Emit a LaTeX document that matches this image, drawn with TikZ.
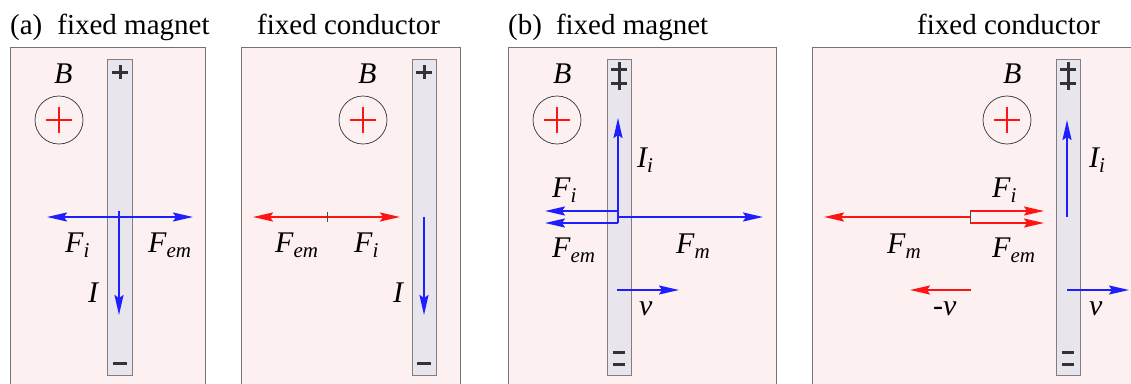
\documentclass[tikz,border=0pt]{standalone}
\usepackage{fontspec}
\setmainfont{Liberation Serif}
\usetikzlibrary{arrows.meta}
\definecolor{cblue}{RGB}{30,30,255}
\definecolor{cred}{RGB}{255,20,20}
\definecolor{pinkbg}{RGB}{253,240,240}
\definecolor{barfill}{RGB}{232,229,236}
\definecolor{barline}{RGB}{130,125,130}
\definecolor{panelline}{RGB}{120,115,115}
\definecolor{signc}{RGB}{50,50,55}
\newcommand{\lsub}[1]{\raisebox{-5pt}{\fontsize{21}{21}\selectfont #1}}
\begin{document}
\begin{tikzpicture}[x=1pt,y=-1pt,
  panel/.style={draw=panelline,fill=pinkbg,line width=0.9pt},
  cbar/.style={draw=barline,fill=barfill,line width=1pt},
  sign/.style={draw=signc,line width=3pt},
  arr/.style={line width=1.9pt,-{Stealth[length=20pt,width=9pt,inset=3pt]}},
  barr/.style={arr,cblue},
  rarr/.style={arr,cred},
  fieldc/.style={draw=black!80,line width=0.7pt},
  fieldx/.style={cred,line width=1.6pt},
  lab/.style={anchor=base west,inner sep=0pt,font=\fontsize{30}{32}\selectfont\itshape},
  title/.style={anchor=base west,inner sep=0pt,font=\fontsize{29}{31}\selectfont},
  thin/.style={draw=black!70,line width=0.7pt}]
\useasboundingbox (0,0) rectangle (1131,383);
\clip (0,0) rectangle (1131,383);
% titles
\node[title] (ta) at (10,34) {(a)\hspace{15pt}fixed magnet};
\node[title] (tb) at (257,34) {fixed conductor};
\node[title] (tc) at (508,34) {(b)\hspace{14pt}fixed magnet};
\node[title] (td) at (917,34) {fixed conductor};
% panels
\path[panel] (10.5,47) rectangle (205,400);
\path[panel] (241,47) rectangle (460,400);
\path[panel] (508,47) rectangle (776,400);
\path[panel] (812,47) rectangle (1150,400);
% bars
\path[cbar] (107,59) rectangle (132,375);
\path[cbar] (412,59) rectangle (436,375);
\path[cbar] (607,59) rectangle (631,375);
\path[cbar] (1056,59) rectangle (1080,375);
% signs panel a
\draw[sign] (112,72) -- (128,72) (120,65) -- (120,79);
\draw[sign] (113,363) -- (127,363);
\draw[sign] (416,72) -- (432,72) (424,65) -- (424,79);
\draw[sign] (417,363) -- (431,363);
% signs panel b
\draw[sign] (611,69) -- (627,69) (611,83) -- (627,83) (619,62) -- (619,90);
\draw[sign] (613,352) -- (625,352) (613,364) -- (625,364);
\draw[sign] (1060,69) -- (1076,69) (1060,83) -- (1076,83) (1068,62) -- (1068,90);
\draw[sign] (1062,352) -- (1074,352) (1062,364) -- (1074,364);
% field symbols
\foreach \n/\cx in {fa/59,fb/363,fc/557,fd/1007}{
  \node[circle,fieldc,minimum size=48pt,inner sep=0pt] (\n) at (\cx,120) {};
  \draw[fieldx] ([xshift=-13pt]\n.center) -- ([xshift=13pt]\n.center)
                ([yshift=-13pt]\n.center) -- ([yshift=13pt]\n.center);
}
\node[lab] (Ba) at (54,83) {B};
\node[lab] (Bb) at (358,83) {B};
\node[lab] (Bc) at (553,83) {B};
\node[lab] (Bd) at (1003,83) {B};
% ---------- panel (a) fixed magnet
\coordinate (a0) at (119,217);
\coordinate (aL) at (47,217);
\coordinate (aR) at (193,217);
\coordinate (aT) at (119,211);
\coordinate (aB) at (119,315);
\draw[barr] (a0) -- (aL);
\draw[barr] (a0) -- (aR);
\draw[barr] (aT) -- (aB);
\node[lab] (aFi) at (65,252) {F\lsub{i}};
\node[lab] (aFem) at (148,252) {F\lsub{em}};
\node[lab] (aI) at (88,302) {I};
% ---------- panel (a) fixed conductor
\coordinate (b0) at (327,217);
\coordinate (bL) at (253,217);
\coordinate (bR) at (400,217);
\draw[rarr] (b0) -- (bL);
\draw[rarr] (b0) -- (bR);
\draw[thin] (327,212) -- (327,222);
\coordinate (bT) at (424,217);
\coordinate (bB) at (424,315);
\draw[barr] (bT) -- (bB);
\node[lab] (bFem) at (275,252) {F\lsub{em}};
\node[lab] (bFi) at (354,252) {F\lsub{i}};
\node[lab] (bI) at (393,302) {I};
% ---------- panel (b) fixed magnet
\coordinate (c1) at (618,211);
\coordinate (c2) at (618,223);
\coordinate (cTop) at (618,118);
\coordinate (cFiE) at (545,211);
\coordinate (cFemE) at (545,223);
\coordinate (cFmS) at (618,217);
\coordinate (cFmE) at (763,217);
\draw[barr] (c2) -- (cTop);
\draw[barr] (c1) -- (cFiE);
\draw[barr] (c2) -- (cFemE);
\draw[barr] (cFmS) -- (cFmE);
\coordinate (cvS) at (617,290);
\coordinate (cvE) at (679,290);
\draw[barr] (cvS) -- (cvE);
\node[lab] (cIi) at (637,167) {I\lsub{i}};
\node[lab] (cFi) at (552,197) {F\lsub{i}};
\node[lab] (cFem) at (552,257) {F\lsub{em}};
\node[lab] (cFm) at (676,253) {F\lsub{m}};
\node[lab] (cv) at (639,315) {v};
% ---------- panel (b) fixed conductor
\coordinate (d1) at (970,211);
\coordinate (d2) at (970,223);
\coordinate (d0) at (970,217);
\coordinate (dFmE) at (824,217);
\coordinate (dFiE) at (1044,211);
\coordinate (dFemE) at (1044,223);
\draw[rarr] (d0) -- (dFmE);
\draw[rarr] (d1) -- (dFiE);
\draw[rarr] (d2) -- (dFemE);
\draw[thin] (d1) -- (d2);
\coordinate (dIb) at (1067,217);
\coordinate (dIt) at (1067,120);
\draw[barr] (dIb) -- (dIt);
\coordinate (dmvS) at (971,290);
\coordinate (dmvE) at (910,290);
\draw[rarr] (dmvS) -- (dmvE);
\coordinate (dvS) at (1067,290);
\coordinate (dvE) at (1129,290);
\draw[barr] (dvS) -- (dvE);
\node[lab] (dFi) at (992,197) {F\lsub{i}};
\node[lab] (dFem) at (992,257) {F\lsub{em}};
\node[lab] (dFm) at (887,253) {F\lsub{m}};
\node[lab] (dIi) at (1089,167) {I\lsub{i}};
\node[lab] (dmv) at (933,315) {-v};
\node[lab] (dv) at (1089,315) {v};
\end{tikzpicture}
\end{document}
